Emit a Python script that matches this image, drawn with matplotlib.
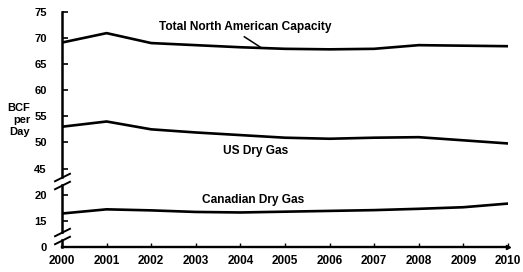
'''
BCF per day: North American gas capacity, broken y axis
'''

import numpy as np
import matplotlib
matplotlib.use("Agg")
import matplotlib.pyplot as plt

years = [2000, 2001, 2002, 2003, 2004, 2005, 2006, 2007, 2008, 2009, 2010]
total_capacity = [69.1, 70.9, 69.0, 68.6, 68.2, 67.9, 67.8, 67.9, 68.6, 68.5, 68.4]
us_dry_gas = [53.0, 54.0, 52.5, 51.9, 51.4, 50.9, 50.7, 50.9, 51.0, 50.4, 49.8]
canadian_dry_gas = [16.4, 17.2, 17.0, 16.7, 16.6, 16.75, 16.9, 17.05, 17.3, 17.6, 18.3]
y_ticks = [0, 15, 20, 45, 50, 55, 60, 65, 70, 75]

# piecewise scale: squeeze 0-15 and 20-45, keep the rest 1:1
data_pts = [0, 15, 20, 45, 75]
axis_pts = [0, 5, 10, 15, 45]

def fwd(y):
    return np.interp(y, data_pts, axis_pts)

def inv(y):
    return np.interp(y, axis_pts, data_pts)

plt.rcParams['font.family'] = ['Liberation Sans', 'DejaVu Sans']
plt.rcParams['font.weight'] = 'bold'

fig = plt.figure(figsize=(5.23, 2.72), dpi=100)
ax = fig.add_axes([0.1186, 0.092, 0.971 - 0.1186, 0.957 - 0.092])
ax.set_yscale('function', functions=(fwd, inv))
ax.set_xlim(2000, 2010)
ax.set_ylim(0, 75)

lw = 1.9
ax.plot(years, total_capacity, color='black', lw=lw)
ax.plot(years, us_dry_gas, color='black', lw=lw)
ax.plot(years, canadian_dry_gas, color='black', lw=lw)

ax.set_yticks(y_ticks)
ax.set_xticks(years)
ax.tick_params(axis='y', direction='in', length=4, width=1.2, pad=11, labelsize=8)
ax.tick_params(axis='x', direction='in', length=3, width=1, pad=6, labelsize=8.5)
for lab in ax.get_xticklabels() + ax.get_yticklabels():
    lab.set_fontweight('bold')

for s in ['top', 'right', 'left']:
    ax.spines[s].set_visible(False)
ax.spines['bottom'].set_linewidth(1.7)

# left axis drawn in pieces with break marks
trans = ax.get_yaxis_transform()
for y0, y1 in [(0, 4), (8.5, 29.5), (37, 75)]:
    ax.plot([0, 0], [y0, y1], color='black', lw=1.8, transform=trans, clip_on=False)
ax.plot([0, 0, 0, 0], [4, 8.5, 29.5, 37], ls='none', marker=[(-1, -0.5), (1, 0.5)],
        markersize=12, mew=1.4, color='black', transform=trans, clip_on=False)
ax.plot([1], [0], marker='>', markersize=3, color='black', transform=ax.transAxes, clip_on=False)

fig.text(0.058, 0.559, 'BCF\nper\nDay', ha='right', va='center', fontsize=8,
         fontweight='bold', linespacing=1.2, multialignment='right')

# leader line from the label down to the total capacity line
ax.plot([2004.09, 2004.47], [70.2, 68.1], color='black', lw=1.1)
ax.text(2004.12, 72.0, 'Total North American Capacity', ha='center', va='center',
        fontsize=8.6, fontweight='bold')
ax.text(2004.34, 48.3, 'US Dry Gas', ha='center', va='center', fontsize=8.6, fontweight='bold')
ax.text(2004.29, 18.9, 'Canadian Dry Gas', ha='center', va='center', fontsize=8.6, fontweight='bold')

fig.savefig('out.png', dpi=100)
